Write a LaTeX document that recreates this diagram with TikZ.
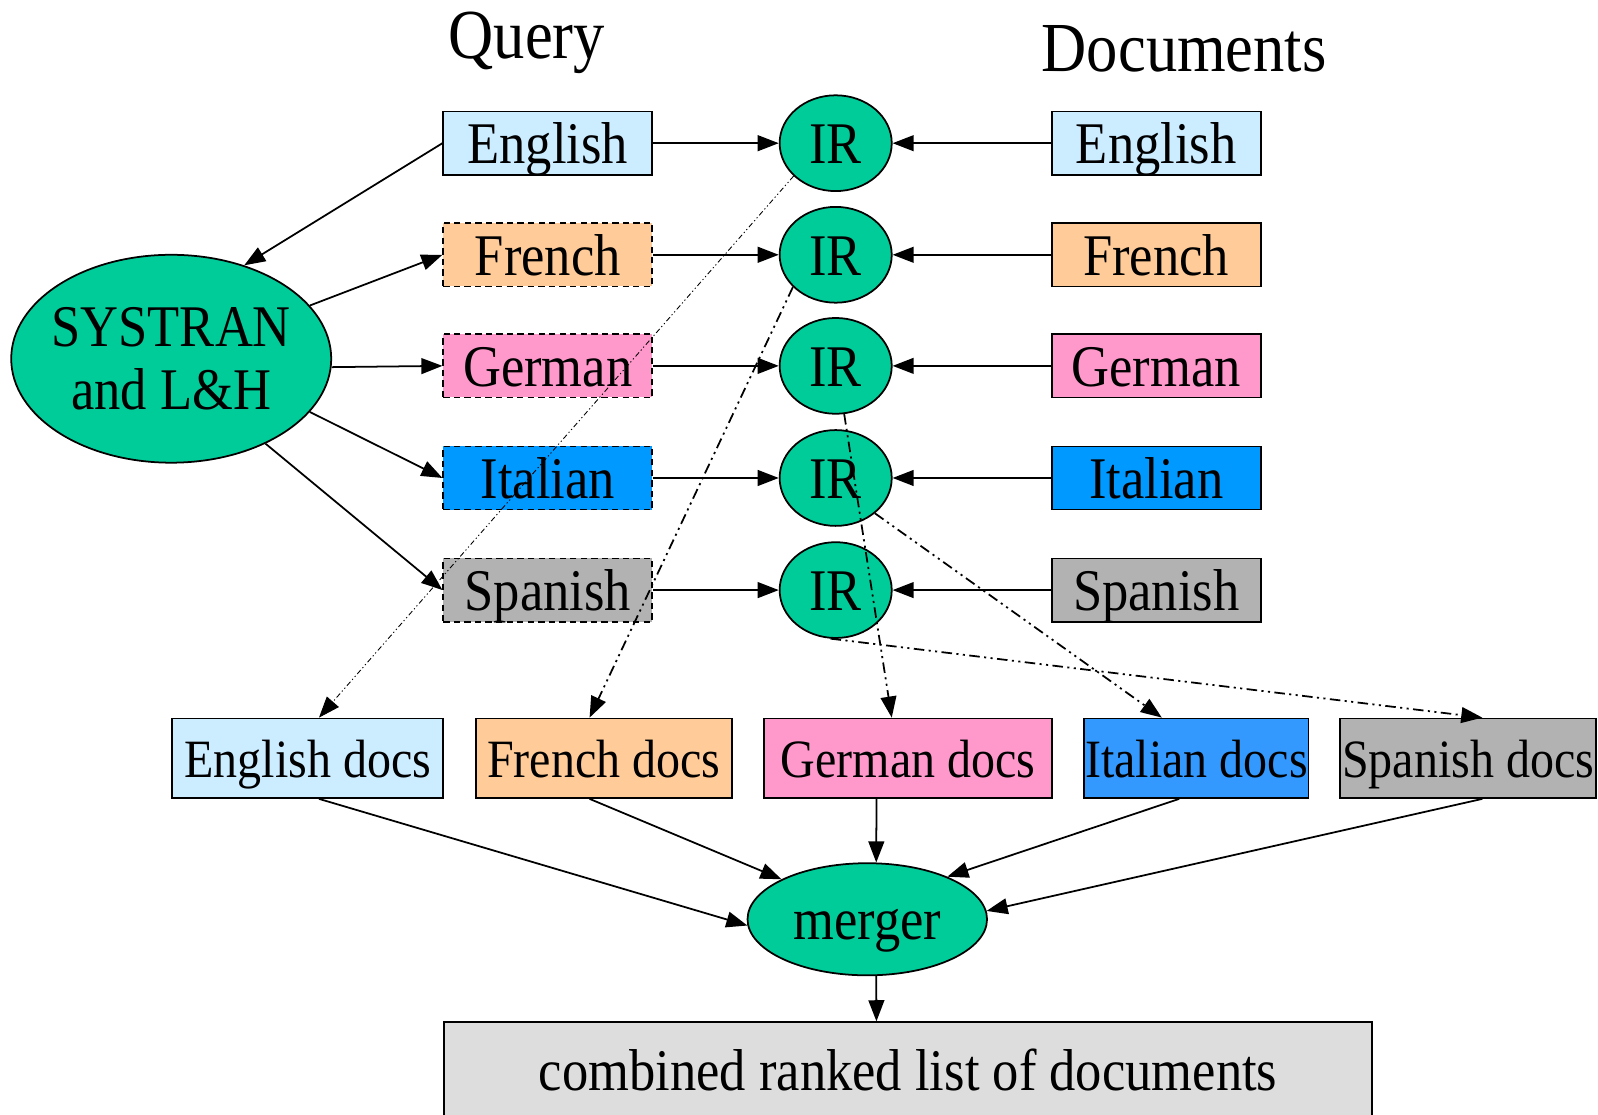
\documentclass[tikz,border=0pt]{standalone}
\usepackage{fontspec}
\usepackage{graphicx}
\setmainfont{Liberation Serif}
\usetikzlibrary{shapes.geometric,arrows.meta}
\newcommand{\pu}{0.02038cm}
\newcommand{\sq}[1]{\scalebox{0.89}[1]{#1}}
\definecolor{cEn}{HTML}{CCECFF}
\definecolor{cFr}{HTML}{FFCC99}
\definecolor{cDe}{HTML}{FF99CC}
\definecolor{cIt}{HTML}{0099FF}
\definecolor{cItd}{HTML}{3399FF}
\definecolor{cEs}{HTML}{B2B2B2}
\definecolor{cIR}{HTML}{00CC99}
\definecolor{cCb}{HTML}{DDDDDD}
\tikzset{
 bigfont/.style={font=\fontsize{33.6}{40}\selectfont, text height=23.5pt, text depth=0pt},
 docfont/.style={font=\fontsize{30.7}{36}\selectfont, text height=21.5pt, text depth=0pt},
 titlefont/.style={font=\fontsize{40}{48}\selectfont, text height=28pt, text depth=0pt},
 langbox/.style={draw, rectangle, inner sep=0pt, line width=1pt, minimum width={205*\pu}, minimum height={62*\pu}, bigfont},
 dashbox/.style={langbox, dash pattern=on 3.6pt off 2.4pt},
 irnode/.style={draw, ellipse, fill=cIR, inner sep=0pt, line width=1pt, minimum width={110*\pu}, minimum height={94*\pu}, bigfont},
 docbox/.style={draw, rectangle, inner sep=0pt, line width=1pt, minimum height={78*\pu}, docfont},
 conn/.style={line width=1pt, -{Triangle[length=12pt,width=9pt]}},
 dd/.style={conn, dash pattern=on 6pt off 2.5pt on 1.2pt off 2.5pt on 1.2pt off 2.5pt},
 thindd/.style={line width=0.5pt, -{Triangle[length=12pt,width=9pt]}, dash pattern=on 3pt off 1.5pt on 0.7pt off 1.5pt on 0.7pt off 1.5pt},
}
\begin{document}
\begin{tikzpicture}[x=\pu, y=-\pu]
\useasboundingbox (0,0) rectangle (1568,1094);
\clip (0,0) rectangle (1568,1094);
% titles
\node[titlefont, inner sep=0pt] (tq) at (517,33) {\sq{Query}};
\node[titlefont, inner sep=0pt] (td) at (1162,46) {\sq{Documents}};
% query boxes
\node[langbox, fill=cEn] (qen) at (537.5,140.5) {\sq{English}};
\node[dashbox, fill=cFr] (qfr) at (537.5,250) {\sq{French}};
\node[dashbox, fill=cDe] (qde) at (537.5,359) {\sq{German}};
\node[dashbox, fill=cIt] (qit) at (537.5,469) {\sq{Italian}};
\node[dashbox, fill=cEs] (qes) at (537.5,579) {\sq{Spanish}};
% IR nodes
\node[irnode] (ir1) at (820,140.5) {\sq{IR}};
\node[irnode] (ir2) at (820,250) {\sq{IR}};
\node[irnode] (ir3) at (820,359) {\sq{IR}};
\node[irnode] (ir4) at (820,469) {\sq{IR}};
\node[irnode] (ir5) at (820,579) {\sq{IR}};
% document boxes
\node[langbox, fill=cEn] (den) at (1134.5,140.5) {\sq{English}};
\node[langbox, fill=cFr] (dfr) at (1134.5,250) {\sq{French}};
\node[langbox, fill=cDe] (dde) at (1134.5,359) {\sq{German}};
\node[langbox, fill=cIt] (dit) at (1134.5,469) {\sq{Italian}};
\node[langbox, fill=cEs] (des) at (1134.5,579) {\sq{Spanish}};
% SYSTRAN
\node[draw, ellipse, fill=cIR, line width=1pt, inner sep=0pt, minimum width={314*\pu}, minimum height={204*\pu}] (sys) at (168,352) {};
\node[font=\fontsize{33.6}{35.9}\selectfont, align=center, inner sep=0pt] (systxt) at (sys.center) {\sq{SYSTRAN}\\\sq{and L\&H}};
% docs row
\node[docbox, fill=cEn, minimum width={266*\pu}] (ben) at (302,744) {\sq{English docs}};
\node[docbox, fill=cFr, minimum width={251*\pu}] (bfr) at (592.5,744) {\sq{French docs}};
\node[docbox, fill=cDe, minimum width={282*\pu}] (bde) at (891,744) {\sq{German docs}};
\node[docbox, fill=cItd, minimum width={220*\pu}] (bit) at (1174,744) {\sq{Italian docs}};
\node[docbox, fill=cEs, minimum width={251*\pu}] (bes) at (1440.5,744) {\sq{Spanish docs}};
% merger
\node[draw, ellipse, fill=cIR, inner sep=0pt, line width=1pt, minimum width={235*\pu}, minimum height={110*\pu}, bigfont] (mg) at (851,902) {\sq{merger}};
% combined
\node[draw, rectangle, fill=cCb, inner sep=0pt, line width=1pt, minimum width={910*\pu}, minimum height={94*\pu}, bigfont] (cb) at (891,1050) {\sq{combined ranked list of documents}};
% SYSTRAN connectors
\draw[conn] (qen.west) -- (sys.52);
\draw[conn] (sys.21.5) -- (qfr.west);
\draw[conn] (sys.-3) -- (qde.west);
\draw[conn] (sys.-21) -- (qit.west);
\draw[conn] (sys.-42.5) -- (qes.west);
% query -> IR, docs -> IR
\foreach \a/\b/\c in {qen/ir1/den, qfr/ir2/dfr, qde/ir3/dde, qit/ir4/dit, qes/ir5/des}{
  \draw[conn] (\a.east) -- (\b.west);
  \draw[conn] (\c.west) -- (\b.east);
}
% IR -> docs
\draw[thindd] (ir1.218) -- ([xshift={11*\pu}]ben.north);
\draw[dd] (ir2.217) -- ([xshift={-14*\pu}]bfr.north);
\draw[dd] (ir3.-80) -- ([xshift={-16*\pu}]bde.north);
\draw[dd] (ir4.-42) -- ([xshift={-34*\pu}]bit.north);
\draw[dd] (ir5.-96) -- ([xshift={14*\pu}]bes.north);
% docs -> merger
\draw[conn] ([xshift={11*\pu}]ben.south) -- (mg.183);
\draw[conn] ([xshift={-14*\pu}]bfr.south) -- (mg.155);
\draw[conn] ([xshift={-31*\pu}]bde.south) -- (mg.81);
\draw[conn] ([xshift={-17*\pu}]bit.south) -- (mg.28);
\draw[conn] ([xshift={14*\pu}]bes.south) -- (mg.4);
\draw[conn] (mg.-81) -- ([xshift={-31*\pu}]cb.north);
\end{tikzpicture}
\end{document}
